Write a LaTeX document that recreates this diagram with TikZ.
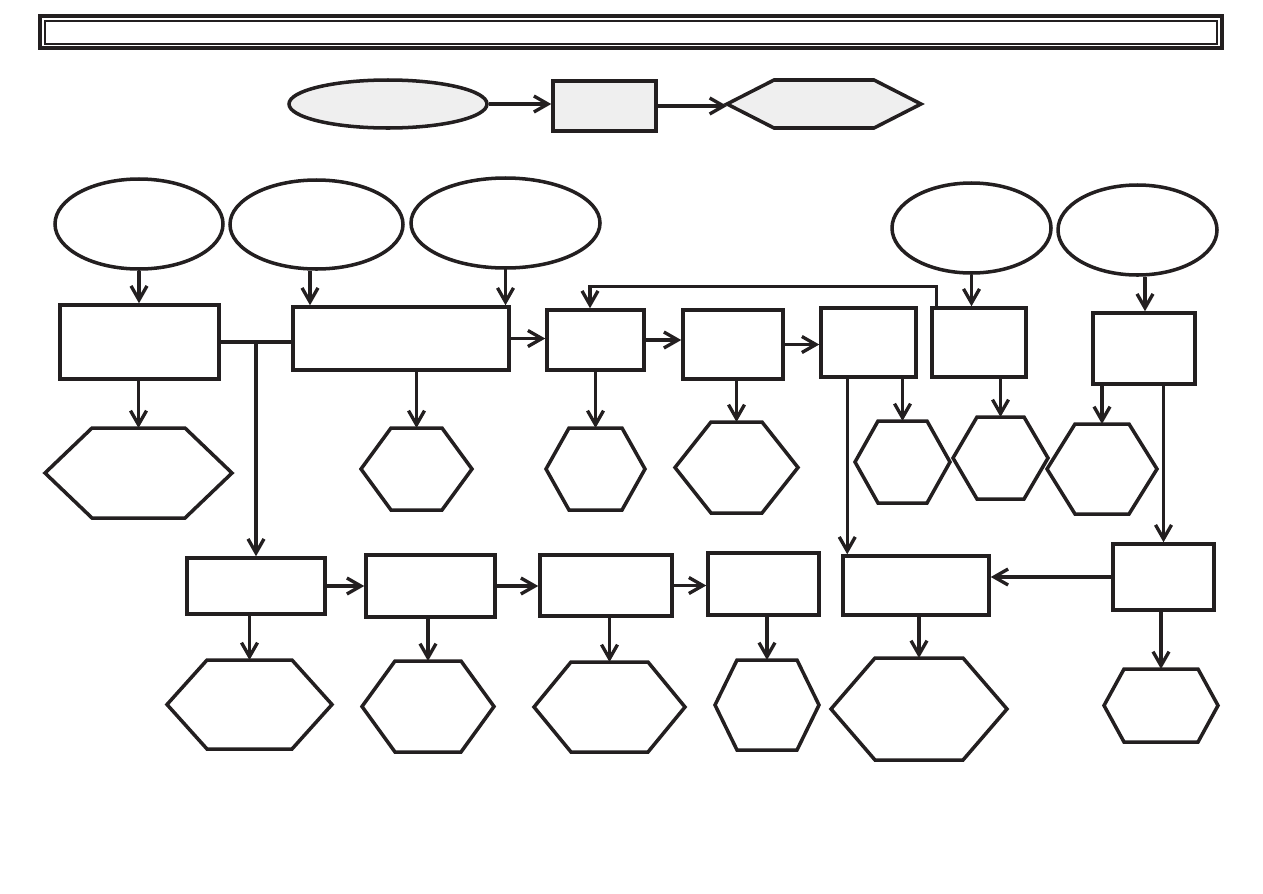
\documentclass[tikz,border=0pt]{standalone}
\usepackage{tikz}
\usetikzlibrary{arrows.meta,positioning,calc,shapes.geometric}
\definecolor{inkdark}{RGB}{35,31,32}
\definecolor{keygray}{RGB}{239,239,239}

% hexagon: [fill] name, x, y, width, height, inset of the top edge (all in px)
\newcommand{\hexnode}[7][white]{%
  \node[hexa, minimum width=#5*0.02cm, minimum height=#6*0.02cm] (#2) at (#3,#4) {};
  \draw[hexline, fill=#1] (#2.west) -- ([xshift=#7*0.02cm]#2.north west)
    -- ([xshift=-#7*0.02cm]#2.north east) -- (#2.east)
    -- ([xshift=-#7*0.02cm]#2.south east) -- ([xshift=#7*0.02cm]#2.south west) -- cycle;
}

\begin{document}
\begin{tikzpicture}[
  x=0.02cm, y=-0.02cm,
  box/.style={draw=inkdark, line width=2pt, fill=white, inner sep=0pt},
  oval/.style={ellipse, draw=inkdark, line width=2pt, fill=white, inner sep=0pt},
  hexa/.style={inner sep=0pt, outer sep=0pt},
  hexline/.style={draw=inkdark, line width=2pt, line join=miter},
  link/.style={draw=inkdark, line width=1.9pt, -{Straight Barb[length=2.8mm,width=3.2mm]}},
  plain/.style={draw=inkdark, line width=1.9pt}
]
  \useasboundingbox (0,0) rectangle (1263,893);

  % title frame
  \draw[inkdark, line width=2.2pt] (40,16) rectangle (1222,48);
  \draw[inkdark, line width=1pt] (45,21) rectangle (1217,44);

  % key row
  \node[oval, fill=keygray, minimum width=198*0.02cm, minimum height=48*0.02cm] (keyoval) at (388,104) {};
  \node[box, fill=keygray, minimum width=103*0.02cm, minimum height=50*0.02cm] (keybox) at (604.5,106) {};
  \hexnode[keygray]{keyhex}{824}{104}{194}{48}{47}
  \draw[link] (keyoval.east) -- (keyoval.east -| keybox.west);
  \draw[link] (keybox.east) -- (keybox.east -| keyhex.west);

  % inputs
  \node[oval, minimum width=168*0.02cm, minimum height=90*0.02cm] (inA) at (139,224) {};
  \node[oval, minimum width=173*0.02cm, minimum height=89*0.02cm] (inB) at (316.5,224.5) {};
  \node[oval, minimum width=189*0.02cm, minimum height=90*0.02cm] (inC) at (505.5,223) {};
  \node[oval, minimum width=159*0.02cm, minimum height=90*0.02cm] (inD) at (971.5,228) {};
  \node[oval, minimum width=159*0.02cm, minimum height=90*0.02cm] (inE) at (1137.5,230) {};

  % upper steps
  \node[box, minimum width=159*0.02cm, minimum height=74*0.02cm] (stepA) at (139.5,342) {};
  \node[box, minimum width=216*0.02cm, minimum height=63*0.02cm] (stepB) at (401,338.5) {};
  \node[box, minimum width=97*0.02cm, minimum height=60*0.02cm] (stepC) at (595.5,340) {};
  \node[box, minimum width=100*0.02cm, minimum height=69*0.02cm] (stepD) at (733,344.5) {};
  \node[box, minimum width=95*0.02cm, minimum height=69*0.02cm] (stepE) at (868.5,342.5) {};
  \node[box, minimum width=94*0.02cm, minimum height=69*0.02cm] (stepF) at (979,342.5) {};
  \node[box, minimum width=102*0.02cm, minimum height=71*0.02cm] (stepG) at (1144,348.5) {};

  % upper outputs
  \hexnode{outA}{138.5}{473}{187}{90}{47}
  \hexnode{outB}{416.5}{469}{111}{82}{30}
  \hexnode{outC}{595.5}{469}{99}{82}{23}
  \hexnode{outD}{736.5}{467.5}{123}{91}{36}
  \hexnode{outE}{902.5}{462}{95}{82}{23}
  \hexnode{outF}{1000.5}{458}{95}{82}{24}
  \hexnode{outG}{1102}{469}{110}{90}{28}

  % lower steps
  \node[box, minimum width=138*0.02cm, minimum height=56*0.02cm] (lowA) at (256,586) {};
  \node[box, minimum width=129*0.02cm, minimum height=62*0.02cm] (lowB) at (430.5,586) {};
  \node[box, minimum width=132*0.02cm, minimum height=61*0.02cm] (lowC) at (606,585.5) {};
  \node[box, minimum width=111*0.02cm, minimum height=62*0.02cm] (lowD) at (763.5,584) {};
  \node[box, minimum width=146*0.02cm, minimum height=59*0.02cm] (lowE) at (916,585.5) {};
  \node[box, minimum width=101*0.02cm, minimum height=66*0.02cm] (lowF) at (1163.5,577) {};

  % lower outputs
  \hexnode{endA}{249.5}{704.5}{165}{89}{40}
  \hexnode{endB}{428}{706.5}{132}{91}{33}
  \hexnode{endC}{609.5}{707}{151}{90}{37}
  \hexnode{endD}{767}{705}{104}{90}{22}
  \hexnode{endE}{919}{709}{176}{102}{44}
  \hexnode{endF}{1161}{705.5}{114}{73}{20}

  % inputs to steps
  \draw[link] (inA.south) -- (inA.south |- stepA.north);
  \draw[link] ([xshift=-0.13cm]inB.south) -- ([xshift=-0.13cm]inB.south |- stepB.north);
  \draw[link] (inC.south) -- (inC.south |- stepB.north);
  \draw[link] (inD.south) -- (inD.south |- stepF.north);
  \draw[link] ([xshift=0.15cm]inE.south) -- ([xshift=0.15cm]inE.south |- stepG.north);

  % upper chain
  \draw[plain] (stepA.east) -- (stepA.east -| stepB.west);
  \coordinate (split) at (lowA.north |- stepA.east);
  \draw[link] (split) -- (lowA.north);
  \draw[link] (stepB.east) -- (stepB.east -| stepC.west);
  \draw[link] (stepC.east) -- (stepC.east -| stepD.west);
  \draw[link] (stepD.east) -- (stepD.east -| stepE.west);
  \draw[link] ([xshift=0.12cm]stepF.north west) -- ++(0,0.4cm) -| ([xshift=-0.11cm]stepC.north);

  % steps to outputs
  \draw[link] (outA.north |- stepA.south) -- (outA.north);
  \draw[link] (outB.north |- stepB.south) -- (outB.north);
  \draw[link] (outC.north |- stepC.south) -- (outC.north);
  \draw[link] (outD.north |- stepD.south) -- (outD.north);
  \draw[link] (outE.north |- stepE.south) -- (outE.north);
  \draw[link] (outF.north |- stepF.south) -- (outF.north);
  \draw[link] (outG.north |- stepG.south) -- (outG.north);
  \draw[link] ([xshift=0.56cm]stepE.south west) -- ([xshift=0.56cm]stepE.south west |- lowE.north);
  \draw[link] (lowF.north |- stepG.south) -- (lowF.north);

  % lower chain
  \draw[link] (lowA.east) -- (lowA.east -| lowB.west);
  \draw[link] (lowB.east) -- (lowB.east -| lowC.west);
  \draw[link] (lowC.east) -- (lowC.east -| lowD.west);
  \draw[link] (lowF.west) -- (lowF.west -| lowE.east);

  \draw[link] (endA.north |- lowA.south) -- (endA.north);
  \draw[link] (endB.north |- lowB.south) -- (endB.north);
  \draw[link] (endC.north |- lowC.south) -- (endC.north);
  \draw[link] (endD.north |- lowD.south) -- (endD.north);
  \draw[link] (endE.north |- lowE.south) -- (endE.north);
  \draw[link] (endF.north |- lowF.south) -- (endF.north);
\end{tikzpicture}
\end{document}
